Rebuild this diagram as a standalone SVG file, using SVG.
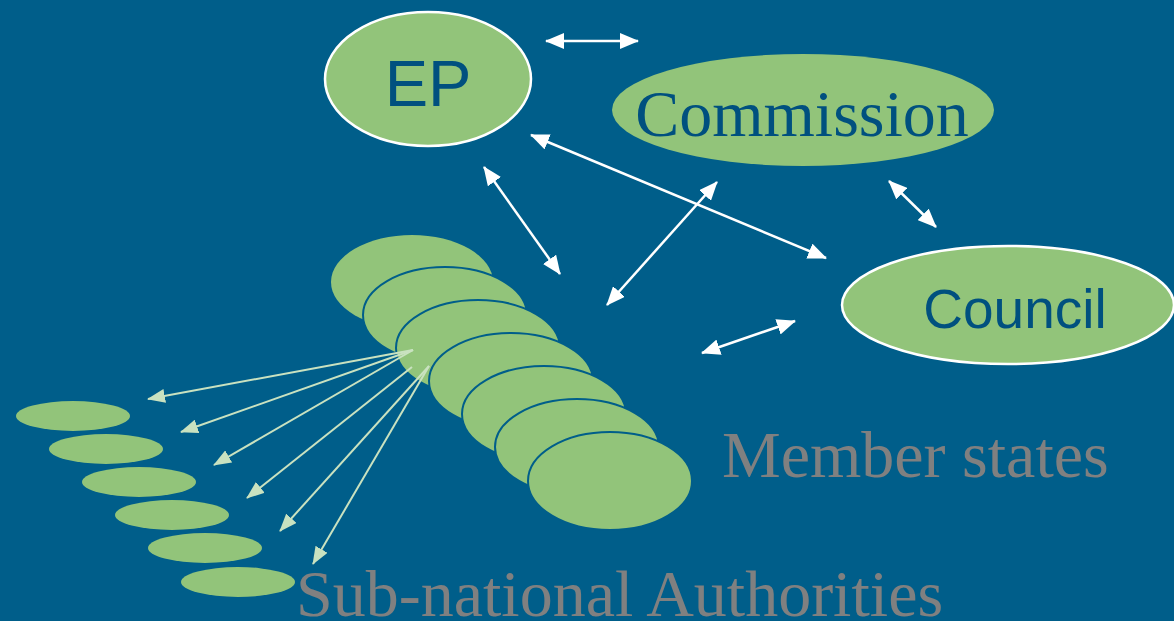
<svg xmlns="http://www.w3.org/2000/svg" width="1174" height="621" viewBox="0 0 1174 621">
<defs>
<style>
.bg{fill:#005E8A}
.g{fill:#92C47A}
.ws{stroke:#FFFFFF;stroke-width:2.5}
.ms{stroke:#005E8A;stroke-width:2}
.lbl{fill:#00507F}
.sans{font-family:"Liberation Sans",Arial,sans-serif}
.serif{font-family:"Liberation Serif","Times New Roman",serif}
.grey{fill:#808080}
.wc{stroke:#FFFFFF;stroke-width:2.5;fill:none;marker-start:url(#wa);marker-end:url(#wa)}
.lc{stroke:#C9E2C0;stroke-width:2;fill:none;marker-end:url(#la)}
</style>
<marker id="wa" markerUnits="userSpaceOnUse" markerWidth="19" markerHeight="16" refX="18" refY="8" orient="auto-start-reverse">
<path d="M0,0 L19,8 L0,16 z" fill="#FFFFFF"/>
</marker>
<marker id="la" markerUnits="userSpaceOnUse" markerWidth="18" markerHeight="14" refX="17" refY="7" orient="auto">
<path d="M0,0 L18,7 L0,14 z" fill="#C9E2C0"/>
</marker>
</defs>
<rect class="bg" x="0" y="0" width="1174" height="621"/>

<g id="subnational">
<ellipse class="g" cx="73" cy="416" rx="57" ry="15"/>
<ellipse class="g" cx="106" cy="449" rx="57" ry="15"/>
<ellipse class="g" cx="139" cy="482" rx="57" ry="15"/>
<ellipse class="g" cx="172" cy="515" rx="57" ry="15"/>
<ellipse class="g" cx="205" cy="548" rx="57" ry="15"/>
<ellipse class="g" cx="238" cy="582" rx="57" ry="15"/>
</g>

<g id="member-states">
<ellipse class="g" cx="412" cy="282" rx="81" ry="47"/>
<ellipse class="g ms" cx="445" cy="315" rx="82" ry="48"/>
<ellipse class="g ms" cx="478" cy="348" rx="82" ry="48"/>
<ellipse class="g ms" cx="511" cy="381" rx="82" ry="48"/>
<ellipse class="g ms" cx="544" cy="414" rx="82" ry="48"/>
<ellipse class="g ms" cx="577" cy="447" rx="82" ry="48"/>
<ellipse class="g ms" cx="610" cy="481" rx="82" ry="49"/>
</g>

<g id="ep">
<ellipse class="g ws" cx="428" cy="79" rx="103" ry="67"/>
<text class="lbl sans" x="428" y="106" font-size="65" text-anchor="middle">EP</text>
</g>

<g id="commission">
<ellipse class="g" cx="803" cy="110" rx="191" ry="56"/>
<text class="lbl serif" x="802" y="136" font-size="66" text-anchor="middle">Commission</text>
</g>

<g id="council">
<ellipse class="g ws" cx="1008" cy="305" rx="166" ry="59"/>
<text class="lbl sans" x="1015" y="328" font-size="55" text-anchor="middle">Council</text>
</g>

<g id="connectors">
<line class="wc" x1="546" y1="41" x2="638" y2="41"/>
<line class="wc" x1="531" y1="135" x2="826" y2="258"/>
<line class="wc" x1="484" y1="167" x2="560" y2="274"/>
<line class="wc" x1="717" y1="182" x2="607" y2="305"/>
<line class="wc" x1="889" y1="181" x2="936" y2="227"/>
<line class="wc" x1="702" y1="353" x2="795" y2="321"/>
<line class="lc" x1="413" y1="350" x2="148" y2="399"/>
<line class="lc" x1="413" y1="350" x2="181" y2="432"/>
<line class="lc" x1="413" y1="350" x2="214" y2="465"/>
<line class="lc" x1="412" y1="367" x2="247" y2="498"/>
<line class="lc" x1="429" y1="366" x2="280" y2="531"/>
<line class="lc" x1="429" y1="366" x2="313" y2="564"/>
</g>

<g id="labels">
<text class="grey serif" x="722" y="477" font-size="66">Member states</text>
<text class="grey serif" x="296" y="616" font-size="66">Sub-national Authorities</text>
</g>
</svg>
